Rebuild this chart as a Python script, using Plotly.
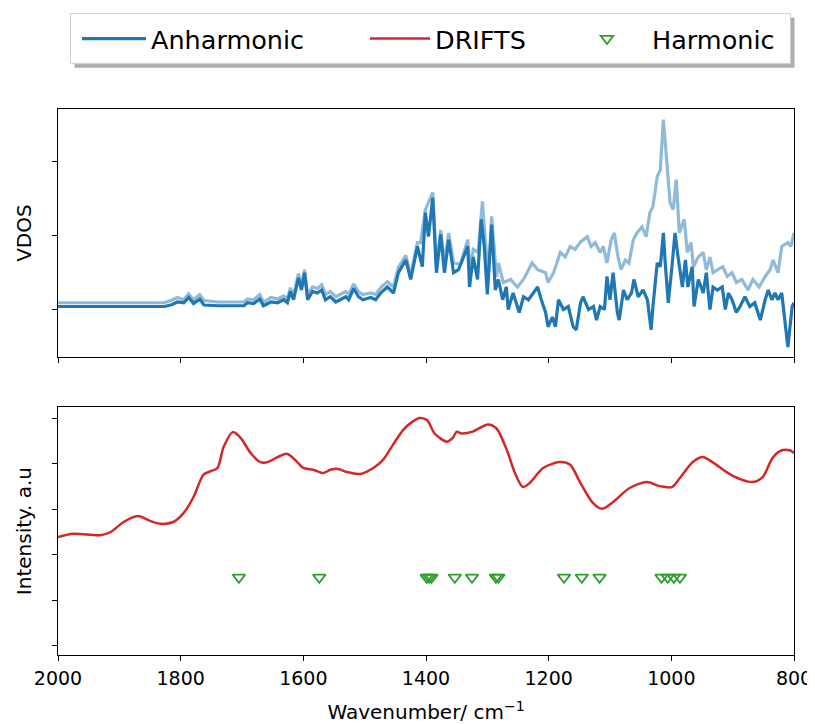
import plotly.graph_objects as go

# ---------------- data ----------------
anh_wn = [2000, 1930, 1865, 1827, 1816, 1805, 1795, 1787, 1779, 1769, 1762, 1739, 1697, 1691, 1681,
          1671, 1665, 1653, 1642, 1632, 1626, 1621, 1616, 1608, 1603, 1598, 1593, 1585, 1577, 1570,
          1564, 1556, 1547, 1539, 1531, 1526, 1518, 1510, 1503, 1490, 1482, 1474, 1463, 1453, 1445,
          1433, 1425, 1414, 1406, 1401, 1396, 1389, 1383, 1376, 1370, 1363, 1355, 1347, 1332, 1329,
          1323, 1316, 1310, 1305, 1300, 1293, 1287, 1282, 1275, 1269, 1266, 1258, 1248, 1241, 1233,
          1225, 1218, 1212, 1205, 1201, 1194, 1189, 1184, 1176, 1168, 1160, 1155, 1148, 1144, 1135,
          1127, 1122, 1116, 1109, 1105, 1100, 1095, 1088, 1085, 1078, 1072, 1065, 1061, 1054, 1046,
          1039, 1033, 1030, 1023, 1018, 1013, 1010, 1005, 999, 994, 989, 982, 977, 973, 966,
          963, 956, 948, 943, 937, 932, 925, 917, 912, 907, 901, 894, 888, 880, 872,
          864, 855, 847, 842, 836, 831, 826, 820, 815, 810, 803, 800]
anh_val = [0.07, 0.07, 0.07, 0.07, 0.09, 0.13, 0.12, 0.19, 0.11, 0.17, 0.09, 0.08, 0.08, 0.12, 0.11,
           0.17, 0.08, 0.13, 0.12, 0.16, 0.12, 0.27, 0.16, 0.45, 0.29, 0.52, 0.16, 0.27, 0.25, 0.29,
           0.16, 0.20, 0.13, 0.16, 0.20, 0.16, 0.31, 0.20, 0.16, 0.19, 0.16, 0.25, 0.33, 0.25, 0.52,
           0.69, 0.43, 0.87, 0.60, 1.32, 1.00, 1.52, 0.52, 1.03, 0.52, 0.96, 0.52, 0.56, 0.87, 0.33,
           0.73, 0.43, 1.23, 0.87, 0.23, 1.16, 0.29, 0.43, 0.16, 0.33, 0.03, 0.25, -0.01, 0.20, 0.16,
           0.25, 0.33, 0.16, -0.01, -0.20, -0.07, -0.20, 0.16, 0.03, 0.07, -0.20, -0.24, 0.12, 0.20, 0.03,
           0.07, -0.11, 0.07, 0.03, 0.47, 0.16, 0.52, -0.01, -0.11, 0.29, 0.16, 0.25, 0.43, 0.20, 0.29,
           0.16, -0.24, 0.07, 0.65, 0.60, 1.05, 0.65, 0.12, 0.60, 1.05, 0.73, 0.33, 0.69, 0.33, 0.60,
           0.07, 0.43, 0.25, 0.52, 0.03, 0.33, 0.29, 0.33, 0.03, 0.25, 0.16, -0.01, 0.07, 0.20, 0.07,
           0.12, -0.11, 0.16, 0.29, 0.16, 0.25, 0.16, 0.25, -0.11, -0.47, 0.07, 0.12]

anh2_wn = [2000, 1827, 1816, 1805, 1795, 1787, 1779, 1769, 1762, 1739, 1697, 1691, 1681, 1671, 1665,
           1653, 1642, 1632, 1626, 1621, 1616, 1608, 1603, 1598, 1593, 1585, 1577, 1570, 1564, 1556,
           1547, 1539, 1531, 1526, 1518, 1510, 1503, 1490, 1482, 1474, 1463, 1453, 1445, 1433, 1425,
           1414, 1409, 1401, 1389, 1383, 1376, 1370, 1363, 1355, 1344, 1332, 1328, 1323, 1315, 1308,
           1303, 1298, 1293, 1285, 1282, 1274, 1262, 1251, 1241, 1227, 1218, 1205, 1201, 1192, 1181,
           1173, 1165, 1157, 1148, 1137, 1131, 1124, 1116, 1111, 1105, 1098, 1093, 1087, 1082, 1075,
           1069, 1062, 1056, 1048, 1041, 1035, 1030, 1023, 1018, 1013, 1007, 1002, 997, 992, 987,
           979, 974, 968, 964, 956, 948, 943, 937, 932, 924, 916, 909, 901, 894, 885,
           875, 867, 857, 847, 839, 834, 826, 820, 810, 805, 800]
anh2_val = [0.12, 0.12, 0.15, 0.19, 0.16, 0.24, 0.16, 0.23, 0.15, 0.13, 0.13, 0.17, 0.16, 0.23, 0.13,
            0.19, 0.17, 0.21, 0.17, 0.32, 0.21, 0.51, 0.35, 0.56, 0.23, 0.33, 0.31, 0.36, 0.23, 0.27,
            0.20, 0.23, 0.27, 0.23, 0.37, 0.27, 0.23, 0.25, 0.23, 0.32, 0.40, 0.33, 0.59, 0.75, 0.49,
            0.92, 0.92, 1.36, 1.59, 0.60, 1.09, 0.65, 1.05, 0.65, 0.63, 0.96, 0.56, 0.83, 0.79, 1.47,
            0.92, 0.52, 1.27, 0.47, 0.65, 0.39, 0.43, 0.33, 0.43, 0.65, 0.56, 0.52, 0.39, 0.52, 0.79,
            0.73, 0.87, 0.83, 0.93, 1.00, 0.87, 0.92, 0.79, 0.87, 0.65, 0.96, 1.05, 0.73, 0.56, 0.69,
            0.65, 0.96, 1.05, 1.13, 1.00, 1.32, 1.40, 1.80, 1.89, 2.56, 1.93, 1.45, 1.36, 1.76, 1.05,
            1.23, 0.79, 0.92, 0.60, 0.73, 0.79, 0.56, 0.73, 0.52, 0.56, 0.60, 0.47, 0.52, 0.39, 0.43,
            0.29, 0.43, 0.33, 0.47, 0.56, 0.69, 0.52, 0.87, 0.92, 0.87, 1.05]

drifts_wn = [2000, 1975, 1931, 1914, 1893, 1870, 1849, 1833, 1812, 1795, 1779, 1763, 1751, 1740, 1730,
             1715, 1702, 1686, 1670, 1658, 1642, 1626, 1610, 1600, 1584, 1568, 1556, 1543, 1529, 1507,
             1486, 1470, 1454, 1437, 1423, 1410, 1398, 1386, 1366, 1356, 1350, 1342, 1324, 1299, 1285,
             1268, 1255, 1242, 1231, 1209, 1182, 1165, 1149, 1128, 1113, 1095, 1068, 1040, 1019, 999,
             986, 965, 949, 933, 910, 889, 868, 851, 835, 820, 807, 800]
drifts_val = [2.39, 2.46, 2.43, 2.50, 2.72, 2.85, 2.74, 2.68, 2.72, 2.92, 3.27, 3.76, 3.84, 3.91, 4.37,
              4.70, 4.57, 4.24, 4.04, 4.04, 4.15, 4.22, 4.04, 3.91, 3.87, 3.80, 3.87, 3.89, 3.82, 3.78,
              3.91, 4.09, 4.42, 4.75, 4.92, 5.01, 4.96, 4.67, 4.49, 4.58, 4.71, 4.67, 4.71, 4.87, 4.78,
              4.30, 3.80, 3.49, 3.58, 3.91, 4.04, 3.98, 3.60, 3.14, 3.01, 3.16, 3.47, 3.60, 3.51, 3.49,
              3.69, 4.04, 4.15, 4.04, 3.82, 3.67, 3.60, 3.71, 4.13, 4.30, 4.30, 4.24]

harm_wn = [1705, 1574, 1399, 1395, 1391, 1353, 1325, 1286, 1282, 1175, 1146, 1117, 1016, 1006, 996, 986]
harm_val = [1.5] * len(harm_wn)

x_ticks = [2000, 1800, 1600, 1400, 1200, 1000, 800]
vdos_ticks = [0.03, 1.01, 2.0]
int_ticks = [0, 1, 2, 3, 4, 5]

# ---------------- styling ----------------
BLUE = "#1f77b4"
BLUE_LIGHT = "rgba(31,119,180,0.5)"
RED = "#d62728"
GREEN = "#2ca02c"
FONT = "DejaVu Sans"

fig = go.Figure()

fig.add_trace(go.Scatter(x=anh2_wn, y=anh2_val, mode="lines", xaxis="x2", yaxis="y2",
                         line=dict(color=BLUE_LIGHT, width=3.2), showlegend=False, name="Anharmonic"))
fig.add_trace(go.Scatter(x=anh_wn, y=anh_val, mode="lines", xaxis="x2", yaxis="y2",
                         line=dict(color=BLUE, width=3.2), name="Anharmonic", legend="legend"))
fig.add_trace(go.Scatter(x=drifts_wn, y=drifts_val, mode="lines", xaxis="x", yaxis="y",
                         line=dict(color=RED, width=2.5, shape="spline", smoothing=0.8),
                         name="DRIFTS", legend="legend2"))
fig.add_trace(go.Scatter(x=harm_wn, y=harm_val, mode="markers", xaxis="x", yaxis="y",
                         marker=dict(symbol="triangle-down-open", size=11, color=GREEN,
                                     line=dict(width=1.8, color=GREEN)),
                         name="Harmonic", legend="legend3"))

# the page body adds an 8 px offset; positions below are given in window pixels
OFF = 8
W, H = 815 - OFF, 724 - OFF
ml, mr = 57.5 - OFF, 20.5
mt = 109.3 - OFF
mb = H - (655 - OFF)
pw = W - ml - mr
ph = H - mt - mb


def px_x(p):
    return (p - OFF - ml) / pw


def px_y(p):
    return (H - mb - (p - OFF)) / ph


def cx(p):
    return (p - OFF) / W


def cy(p):
    return 1 - (p - OFF) / H


axis_common = dict(showline=True, linecolor="black", linewidth=1, mirror=True,
                   ticks="outside", ticklen=5, tickwidth=1, tickcolor="black",
                   showgrid=False, zeroline=False, automargin=False)

legend_common = dict(orientation="h", xref="container", yref="container",
                     xanchor="left", yanchor="middle", y=cy(39),
                     bgcolor="rgba(0,0,0,0)", borderwidth=0,
                     font=dict(size=25.5, family=FONT))

fig.update_layout(
    width=W, height=H,
    margin=dict(l=ml, r=mr, t=mt, b=mb, autoexpand=False),
    paper_bgcolor="white", plot_bgcolor="white",
    font=dict(family=FONT, size=19, color="black"),
    xaxis=dict(domain=[0, 1], anchor="y", range=[2000, 800], tickvals=x_ticks,
               ticktext=[str(v) for v in x_ticks], tickfont=dict(size=19), ticklabelstandoff=1,
               title=dict(text="Wavenumber/ cm<sup>−1</sup>", font=dict(size=20), standoff=17),
               **axis_common),
    yaxis=dict(domain=[0, px_y(407.3)], anchor="x", range=[-0.21, 5.25], tickvals=int_ticks,
               showticklabels=False,
               title=dict(text="Intensity. a.u", font=dict(size=20), standoff=14),
               **axis_common),
    xaxis2=dict(domain=[0, 1], anchor="y2", matches="x", range=[2000, 800], tickvals=x_ticks,
                showticklabels=False, **axis_common),
    yaxis2=dict(domain=[px_y(357.3), 1], anchor="x2", range=[-0.604, 2.70], tickvals=vdos_ticks,
                showticklabels=False,
                title=dict(text="VDOS", font=dict(size=20), standoff=14),
                **axis_common),
    legend=dict(x=cx(77), itemwidth=64, **legend_common),
    legend2=dict(x=cx(365), itemwidth=60, **legend_common),
    legend3=dict(x=cx(562), itemwidth=80, **legend_common),
    shapes=[
        dict(type="rect", xref="paper", yref="paper",
             x0=px_x(74), x1=px_x(795), y0=px_y(68), y1=px_y(18),
             fillcolor="rgba(120,120,120,0.6)", line=dict(width=0), layer="above"),
        dict(type="rect", xref="paper", yref="paper",
             x0=px_x(70), x1=px_x(791), y0=px_y(64), y1=px_y(14),
             fillcolor="white", line=dict(color="#cccccc", width=1), layer="above"),
    ],
)

fig.write_html("out.html")
